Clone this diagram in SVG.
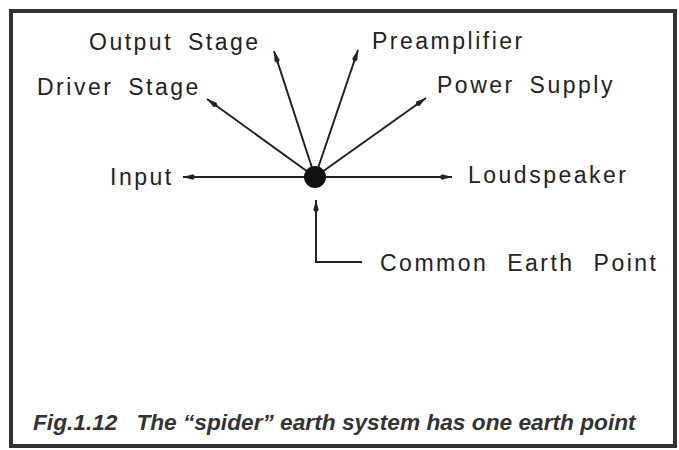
<svg xmlns="http://www.w3.org/2000/svg" width="679" height="450" viewBox="0 0 679 450">
<style>
.lbl{font-family:"Liberation Sans",Arial,sans-serif;font-size:23px;fill:#222;letter-spacing:2.5px;word-spacing:6px}
.cap{font-family:"Liberation Sans",Arial,sans-serif;font-size:22.7px;font-style:italic;font-weight:bold;fill:#333}
.ln{stroke:#222;stroke-width:2;fill:none}
</style>
<defs>
<marker id="ah" markerWidth="14" markerHeight="7" refX="13" refY="3.5" orient="auto" markerUnits="userSpaceOnUse">
<path d="M0,3.5 L3,0.8 L13,3.5 L3,6.2 Z" fill="#222"/>
</marker>
</defs>
<rect x="11" y="11" width="664" height="435" fill="#fff" stroke="#333" stroke-width="4"/>
<g id="connectors">
<line class="ln" x1="315" y1="177" x2="183" y2="177" marker-end="url(#ah)"/>
<line class="ln" x1="315" y1="177" x2="452" y2="177" marker-end="url(#ah)"/>
<line class="ln" x1="315" y1="177" x2="207" y2="99" marker-end="url(#ah)"/>
<line class="ln" x1="315" y1="177" x2="274" y2="51" marker-end="url(#ah)"/>
<line class="ln" x1="315" y1="177" x2="358" y2="50" marker-end="url(#ah)"/>
<line class="ln" x1="315" y1="177" x2="426" y2="98" marker-end="url(#ah)"/>
<polyline class="ln" points="362,262 316,262 316,200" marker-end="url(#ah)"/>
</g>
<g id="earth-point"><circle cx="315" cy="177" r="11" fill="#111"/></g>
<g id="input"><text class="lbl" x="110" y="185">Input</text></g>
<g id="loudspeaker"><text class="lbl" x="468" y="183">Loudspeaker</text></g>
<g id="driver-stage"><text class="lbl" x="37" y="95">Driver Stage</text></g>
<g id="output-stage"><text class="lbl" x="89" y="50">Output Stage</text></g>
<g id="preamplifier"><text class="lbl" x="372" y="49">Preamplifier</text></g>
<g id="power-supply"><text class="lbl" x="437" y="93">Power Supply</text></g>
<g id="common-earth-point"><text class="lbl" x="380" y="271" style="word-spacing:10px">Common Earth Point</text></g>
<text class="cap" x="33" y="430" xml:space="preserve">Fig.1.12   The “spider” earth system has one earth point</text>
</svg>
